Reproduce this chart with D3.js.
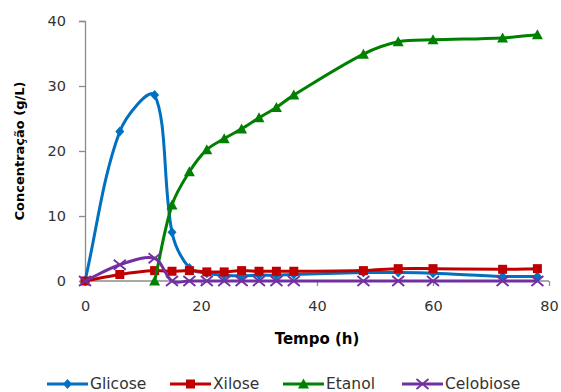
<!DOCTYPE html>
<html><head><meta charset="utf-8">
<script src="https://cdn.jsdelivr.net/npm/d3@7"></script>
<style>body{margin:0;background:#fff}svg{display:block}</style>
</head><body>
<svg id="c" width="561" height="392"></svg>
<script>
const seriesNames = ["Glicose","Xilose","Etanol","Celobiose"];
const colors = ["#0070C0","#C00000","#008000","#7030A0"];
const timeMain = [0,6,12,15,18,21,24,27,30,33,36,48,54,60,72,78];
const glicose = [0,23.0,28.6,7.5,2.0,1.2,0.9,0.8,0.9,0.9,1.0,1.3,1.3,1.2,0.7,0.7];
const xilose = [0,1.0,1.6,1.5,1.6,1.4,1.4,1.6,1.5,1.5,1.5,1.6,1.9,1.9,1.8,1.9];
const timeEtanol = [12,15,18,21,24,27,30,33,36,48,54,60,72,78];
const etanol = [0,11.7,16.8,20.2,21.9,23.4,25.1,26.7,28.6,34.9,36.8,37.1,37.4,37.9];
const celobiose = [0,2.5,3.5,0,0,0,0,0,0,0,0,0,0,0,0,0];
const xTicks = [0,20,40,60,80];
const yTicks = [0,10,20,30,40];

const svg = d3.select("#c");
const x = d3.scaleLinear().domain([0,80]).range([85,549]);
const y = d3.scaleLinear().domain([0,40]).range([281,21]);
const font = "'DejaVu Sans', sans-serif";

// axes
const gx = svg.append("g").attr("transform","translate(0,281)")
  .call(d3.axisBottom(x).tickValues(xTicks).tickSize(5).tickPadding(15));
const gy = svg.append("g").attr("transform","translate(85,0)")
  .call(d3.axisLeft(y).tickValues(yTicks).tickSize(6).tickPadding(13));
[gx,gy].forEach(g=>{
  g.select(".domain").attr("stroke","#8c8c8c").attr("stroke-width",1.3);
  g.selectAll(".tick line").attr("stroke","#8c8c8c").attr("stroke-width",1.3);
  g.selectAll(".tick text").attr("fill","#333").style("font-family",font).style("font-size","14.5px");
});
gx.select(".domain").attr("d","M85,0H549");

svg.append("text").attr("x",317).attr("y",344).attr("text-anchor","middle")
  .style("font-family",font).style("font-weight","bold").style("font-size","15px").attr("fill","#000")
  .text("Tempo (h)");
svg.append("text").attr("transform","translate(24,151) rotate(-90)").attr("text-anchor","middle")
  .style("font-family",font).style("font-weight","bold").style("font-size","13px").attr("fill","#000")
  .text("Concentração (g/L)");

const data = [
  {t:timeMain, v:glicose},
  {t:timeMain, v:xilose},
  {t:timeEtanol, v:etanol},
  {t:timeMain, v:celobiose}
];

// Excel-like smoothing: Bezier with tangents weighted by adjacent segment lengths
function smoothPath(p){
  const n = p.length;
  const dist = (a,b)=>Math.hypot(b[0]-a[0], b[1]-a[1]);
  let s = `M${p[0][0]},${p[0][1]}`;
  for(let i=0;i<n-1;i++){
    const a = p[i], b = p[i+1];
    const pa = i>0 ? p[i-1] : a;
    const nb = i<n-2 ? p[i+2] : b;
    const lab = dist(a,b);
    const la0 = dist(pa,a);
    const da = [b[0]-pa[0], b[1]-pa[1]];
    const fa = (lab/(la0+lab||1))/3;
    const c1 = [a[0]+da[0]*fa, a[1]+da[1]*fa];
    const lb1 = dist(b,nb);
    const db = [nb[0]-a[0], nb[1]-a[1]];
    const fb = (lab/(lab+lb1||1))/3;
    const c2 = [b[0]-db[0]*fb, b[1]-db[1]*fb];
    s += `C${c1[0]},${c1[1]} ${c2[0]},${c2[1]} ${b[0]},${b[1]}`;
  }
  return s;
}

function marker(g, i, cx, cy){
  const c = colors[i];
  if(i===0){
    g.append("path").attr("d",`M${cx},${cy-5}L${cx+4.5},${cy}L${cx},${cy+5}L${cx-4.5},${cy}Z`).attr("fill",c);
  } else if(i===1){
    g.append("rect").attr("x",cx-4.5).attr("y",cy-4.5).attr("width",9).attr("height",9).attr("fill",c);
  } else if(i===2){
    g.append("path").attr("d",`M${cx},${cy-5.5}L${cx+5.5},${cy+4.5}L${cx-5.5},${cy+4.5}Z`).attr("fill",c);
  } else {
    g.append("path").attr("d",`M${cx-6},${cy-5}L${cx+6},${cy+5}M${cx-6},${cy+5}L${cx+6},${cy-5}`)
      .attr("stroke",c).attr("stroke-width",1.8).attr("fill","none");
  }
}

data.forEach((s,i)=>{
  const pts = s.t.map((t,j)=>[x(t),y(s.v[j])]);
  const g = svg.append("g");
  g.append("path").attr("d",smoothPath(pts)).attr("fill","none").attr("stroke",colors[i]).attr("stroke-width",3);
  pts.forEach(p=>marker(g,i,p[0],p[1]));
});

// legend
const legX = [47,170,283,402];
const lg = svg.append("g");
seriesNames.forEach((n,i)=>{
  const g = lg.append("g");
  g.append("line").attr("x1",legX[i]).attr("x2",legX[i]+41).attr("y1",384).attr("y2",384)
    .attr("stroke",colors[i]).attr("stroke-width",3);
  marker(g,i,legX[i]+20.5,384);
  g.append("text").attr("x",legX[i]+43).attr("y",389).style("font-family",font).style("font-size","15.5px")
    .attr("fill","#333").text(n);
});
</script>
</body></html>
